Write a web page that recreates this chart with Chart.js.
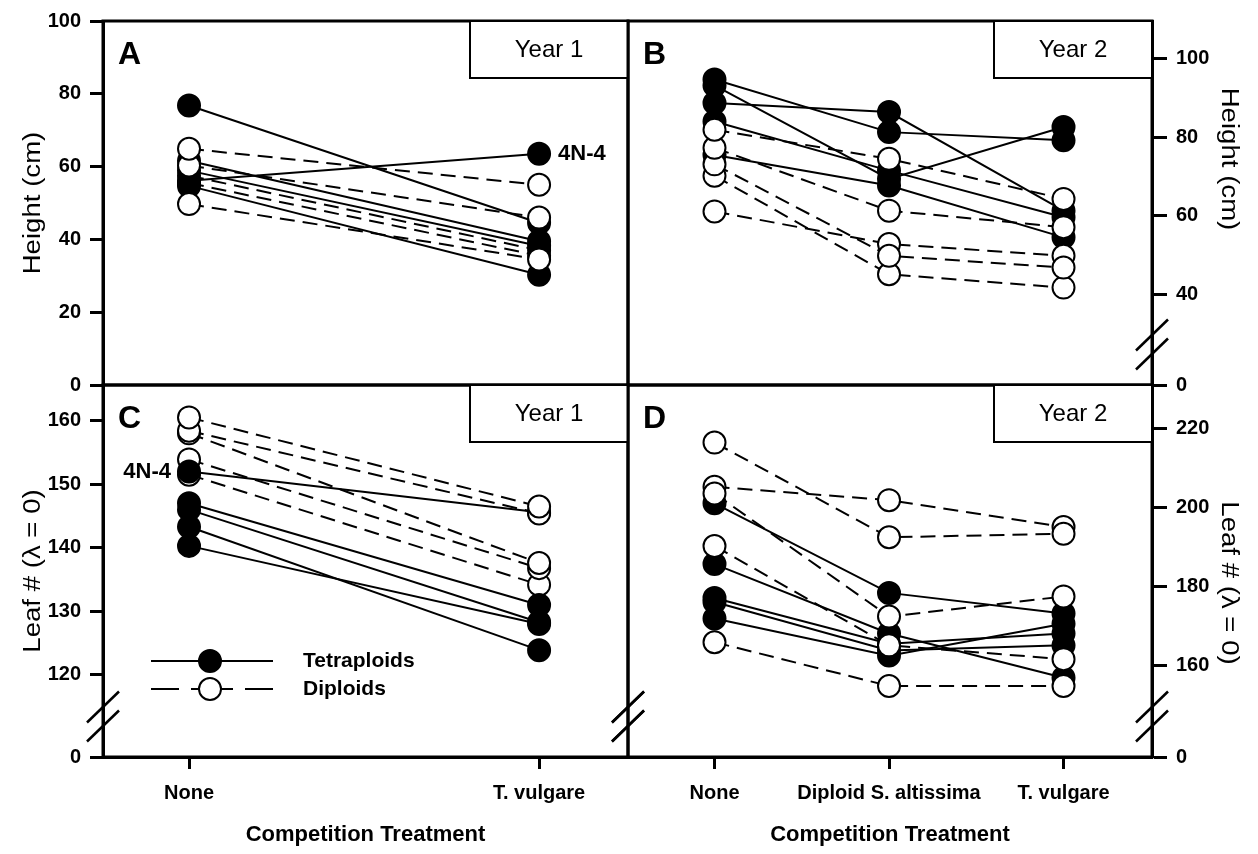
<!DOCTYPE html>
<html>
<head>
<meta charset="utf-8">
<script src="https://cdn.jsdelivr.net/npm/chart.js@4.4.1/dist/chart.umd.min.js"></script>
<style>
    html, body { margin: 0; padding: 0; background: #fff; }
    #wrap { position: relative; width: 1258px; height: 854px; }
    #wrap canvas { position: absolute; left: 0; top: 0; }
</style>
</head>
<body>
<div id="wrap">
    <canvas id="panelA" width="1258" height="854"></canvas>
    <canvas id="panelB" width="1258" height="854"></canvas>
    <canvas id="panelC" width="1258" height="854"></canvas>
    <canvas id="panelD" width="1258" height="854"></canvas>
</div>
<script>
// categories
const year1Treatments = ['None', 'T. vulgare'];
const year2Treatments = ['None', 'Diploid S. altissima', 'T. vulgare'];

// tick labels
const heightTicksY1 = [0, 20, 40, 60, 80, 100];
const heightTicksY2 = [40, 60, 80, 100];
const leafTicksY1 = [120, 130, 140, 150, 160];
const leafTicksY2 = [160, 180, 200, 220];
const breakLabel = '0';

// A - height, year 1 (one row per genotype: None, T. vulgare)
const heightY1Tetra = [[76.8, 44.5], [56.1, 63.5], [61.6, 39.5], [58.9, 38.2], [54.7, 30.3]];
const heightY1Dip = [[64.9, 55.0], [49.7, 34.5], [60.3, 46.0], [57.5, 37.0], [55.5, 35.5]];

// B - height, year 2 (None, Diploid S. altissima, T. vulgare)
const heightY2Tetra = [[94.7, 81.3, 79.2], [93.2, 69.4, 82.6], [88.7, 86.4, 61.3], [84.0, 71.5, 59.6], [75.5, 67.7, 54.5]];
const heightY2Dip = [[81.9, 74.5, 64.3], [77.3, 61.3, 57.1], [73.1, 49.8, 46.8], [70.2, 45.1, 41.7], [61.1, 52.8, 49.8]];

// C - leaf number, year 1
const leafY1Tetra = [[152.0, 145.6], [147.0, 131.0], [146.0, 128.3], [143.3, 123.9], [140.3, 128.0]];
const leafY1Dip = [[160.5, 146.5], [158.4, 145.4], [158.0, 137.6], [153.9, 136.8], [151.5, 134.2]];

// D - leaf number, year 2
const leafY2Tetra = [[201.0, 178.3, 173.1], [185.6, 168.0, 156.8], [177.0, 165.4, 168.0], [171.8, 162.4, 170.5], [176.0, 163.7, 165.0]];
const leafY2Dip = [[216.4, 192.4, 193.3], [205.2, 201.8, 195.0], [203.5, 172.3, 177.4], [190.2, 165.0, 161.5], [165.8, 154.7, 154.7]];

const FONT = 'Arial, "Liberation Sans", Helvetica, sans-serif';
Chart.defaults.font.family = FONT;
Chart.defaults.color = '#000';

function series(rows, diploid) {
    return rows.map(vals => ({
        data: vals.map((v, i) => ({ x: i, y: v })),
        borderColor: '#000',
        borderWidth: 2,
        borderDash: diploid ? [15, 8] : [],
        pointRadius: 11,
        pointBorderWidth: 2,
        pointBorderColor: '#000',
        pointBackgroundColor: diploid ? '#fff' : '#000',
        tension: 0
    }));
}

function yAxis(side, min, max, ticks, broken) {
    return {
        type: 'linear',
        position: side,
        min: min,
        max: max,
        afterFit: s => { s.width = side === 'left' ? 81 : 88; },
        afterBuildTicks: s => {
            s.ticks = (broken ? [min] : []).concat(ticks).map(v => ({ value: v }));
        },
        ticks: {
            callback: (v, i) => (broken && i === 0) ? breakLabel : String(v),
            padding: 9,
            font: { size: 20, weight: 'bold' },
            color: '#000'
        },
        grid: {
            drawOnChartArea: false,
            tickLength: side === 'left' ? 13 : 15,
            tickWidth: 3,
            tickColor: '#000',
            color: '#000'
        },
        border: { display: true, width: 3, color: '#000' }
    };
}

function xAxis(cats, min, max, shown) {
    return {
        type: 'linear',
        display: shown,
        min: min,
        max: max,
        afterFit: s => { if (shown) s.height = 91; },
        afterBuildTicks: s => { s.ticks = cats.map((c, i) => ({ value: i })); },
        ticks: {
            callback: (v, i) => cats[i],
            font: { size: 20, weight: 'bold' },
            color: '#000',
            padding: 12,
            maxRotation: 0,
            autoSkip: false
        },
        grid: { drawOnChartArea: false, tickLength: 12, tickWidth: 3, tickColor: '#000' },
        border: { display: true, width: 3, color: '#000' },
        title: {
            display: true,
            text: 'Competition Treatment',
            font: { size: 22, weight: 'bold' },
            color: '#000',
            padding: { top: 0, bottom: 0 }
        }
    };
}

function slash(ctx, x, y) {
    ctx.beginPath();
    ctx.moveTo(x - 16, y + 15.5);
    ctx.lineTo(x + 16, y - 15.5);
    ctx.stroke();
}

// frame, year box, panel letter, axis breaks, labels, legend
const panelDecor = {
    id: 'panelDecor',
    afterDraw(chart, args, o) {
        const { ctx, chartArea: a } = chart;
        ctx.save();
        ctx.strokeStyle = '#000';
        ctx.fillStyle = '#000';
        ctx.lineWidth = 3;
        ctx.strokeRect(a.left, a.top, a.right - a.left, a.bottom - a.top);

        // year box
        const bw = 158, bh = 57;
        ctx.lineWidth = 2;
        ctx.fillStyle = '#fff';
        ctx.fillRect(a.right - bw, a.top, bw, bh);
        ctx.strokeRect(a.right - bw, a.top, bw, bh);
        ctx.fillStyle = '#000';
        ctx.font = '24px ' + FONT;
        ctx.textAlign = 'center';
        ctx.textBaseline = 'middle';
        ctx.fillText(o.year, a.right - bw / 2, a.top + bh / 2 + 1);

        // panel letter
        ctx.font = 'bold 32px ' + FONT;
        ctx.textAlign = 'left';
        ctx.textBaseline = 'alphabetic';
        ctx.fillText(o.letter, a.left + 15, a.top + 43);

        // axis breaks
        ctx.lineWidth = 2.5;
        (o.breaks || []).forEach(side => {
            const x = side === 'left' ? a.left : a.right;
            slash(ctx, x, a.bottom - 50);
            slash(ctx, x, a.bottom - 31);
        });

        // genotype tag
        if (o.tag) {
            const p = chart.getDatasetMeta(o.tag.ds).data[o.tag.pt];
            ctx.font = 'bold 22px ' + FONT;
            ctx.textBaseline = 'middle';
            if (o.tag.side === 'right') {
                ctx.textAlign = 'left';
                ctx.fillText(o.tag.text, p.x + 19, p.y);
            } else {
                ctx.textAlign = 'right';
                ctx.fillText(o.tag.text, p.x - 18, p.y);
            }
        }

        // y-axis title
        if (o.yTitle) {
            const t = o.yTitle;
            ctx.save();
            ctx.translate(t.x, (a.top + a.bottom) / 2 + t.dy);
            ctx.rotate(t.side === 'left' ? -Math.PI / 2 : Math.PI / 2);
            ctx.scale(1.2, 1);
            ctx.font = '23px ' + FONT;
            ctx.textAlign = 'center';
            ctx.textBaseline = 'middle';
            ctx.fillText(t.text, 0, 0);
            ctx.restore();
        }

        // legend
        if (o.legend) {
            const lx = a.left + 48, cx = a.left + 107, tx = a.left + 200;
            const y1 = a.bottom - 96, y2 = a.bottom - 68;
            ctx.lineWidth = 2;
            ctx.beginPath();
            ctx.moveTo(lx, y1);
            ctx.lineTo(lx + 122, y1);
            ctx.stroke();
            ctx.setLineDash([28, 12, 42, 12]);
            ctx.beginPath();
            ctx.moveTo(lx, y2);
            ctx.lineTo(lx + 122, y2);
            ctx.stroke();
            ctx.setLineDash([]);
            ctx.beginPath();
            ctx.arc(cx, y1, 11, 0, Math.PI * 2);
            ctx.fill();
            ctx.stroke();
            ctx.beginPath();
            ctx.arc(cx, y2, 11, 0, Math.PI * 2);
            ctx.fillStyle = '#fff';
            ctx.fill();
            ctx.stroke();
            ctx.fillStyle = '#000';
            ctx.font = 'bold 21px ' + FONT;
            ctx.textAlign = 'left';
            ctx.textBaseline = 'middle';
            ctx.fillText('Tetraploids', tx, y1);
            ctx.fillText('Diploids', tx, y2);
        }
        ctx.restore();
    }
};

function makeChart(id, datasets, x, y, pad, decor) {
    return new Chart(document.getElementById(id), {
        type: 'line',
        data: { datasets: datasets },
        options: {
            responsive: false,
            animation: false,
            devicePixelRatio: 1,
            layout: { padding: pad },
            scales: { x: x, y: y },
            plugins: {
                legend: { display: false },
                tooltip: { enabled: false },
                panelDecor: decor
            }
        },
        plugins: [panelDecor]
    });
}

const tA = series(heightY1Tetra, false), dA = series(heightY1Dip, true);
const tB = series(heightY2Tetra, false), dB = series(heightY2Dip, true);
const tC = series(leafY1Tetra, false), dC = series(leafY1Dip, true);
const tD = series(leafY2Tetra, false), dD = series(leafY2Dip, true);

// first dataset in each list is drawn on top
makeChart('panelA',
    [dA[0], dA[1], dA[2], ...tA, dA[3], dA[4]],
    xAxis(year1Treatments, -0.2457, 1.254, false),
    yAxis('left', 0, 100, heightTicksY1, false),
    { left: 22, top: 17, right: 630, bottom: 469 },
    { year: 'Year 1', letter: 'A', tag: { ds: 4, pt: 1, side: 'right', text: '4N-4' },
      yTitle: { text: 'Height (cm)', side: 'left', x: 34, dy: 0 } });

makeChart('panelB',
    [...dB, ...tB],
    xAxis(year2Treatments, -0.4957, 2.507, false),
    yAxis('right', 16.9, 109.6, heightTicksY2, true),
    { left: 628, top: 17, right: 18, bottom: 469 },
    { year: 'Year 2', letter: 'B', breaks: ['right'],
      yTitle: { text: 'Height (cm)', side: 'right', x: 1228, dy: -44 } });

makeChart('panelC',
    [dC[0], dC[1], ...tC, dC[2], dC[3], dC[4]],
    xAxis(year1Treatments, -0.2457, 1.254, true),
    yAxis('left', 107.1, 165.6, leafTicksY1, true),
    { left: 22, top: 385, right: 630, bottom: 6 },
    { year: 'Year 1', letter: 'C', breaks: ['left', 'right'], legend: true,
      tag: { ds: 2, pt: 0, side: 'left', text: '4N-4' },
      yTitle: { text: 'Leaf # (\u03bb = 0)', side: 'left', x: 34, dy: 0 } });

makeChart('panelD',
    [dD[2], dD[3], dD[4], ...tD, dD[0], dD[1]],
    xAxis(year2Treatments, -0.4957, 2.507, true),
    yAxis('right', 136.7, 231.0, leafTicksY2, true),
    { left: 628, top: 385, right: 18, bottom: 6 },
    { year: 'Year 2', letter: 'D', breaks: ['left', 'right'],
      yTitle: { text: 'Leaf # (\u03bb = 0)', side: 'right', x: 1228, dy: 12 } });
</script>
</body>
</html>
